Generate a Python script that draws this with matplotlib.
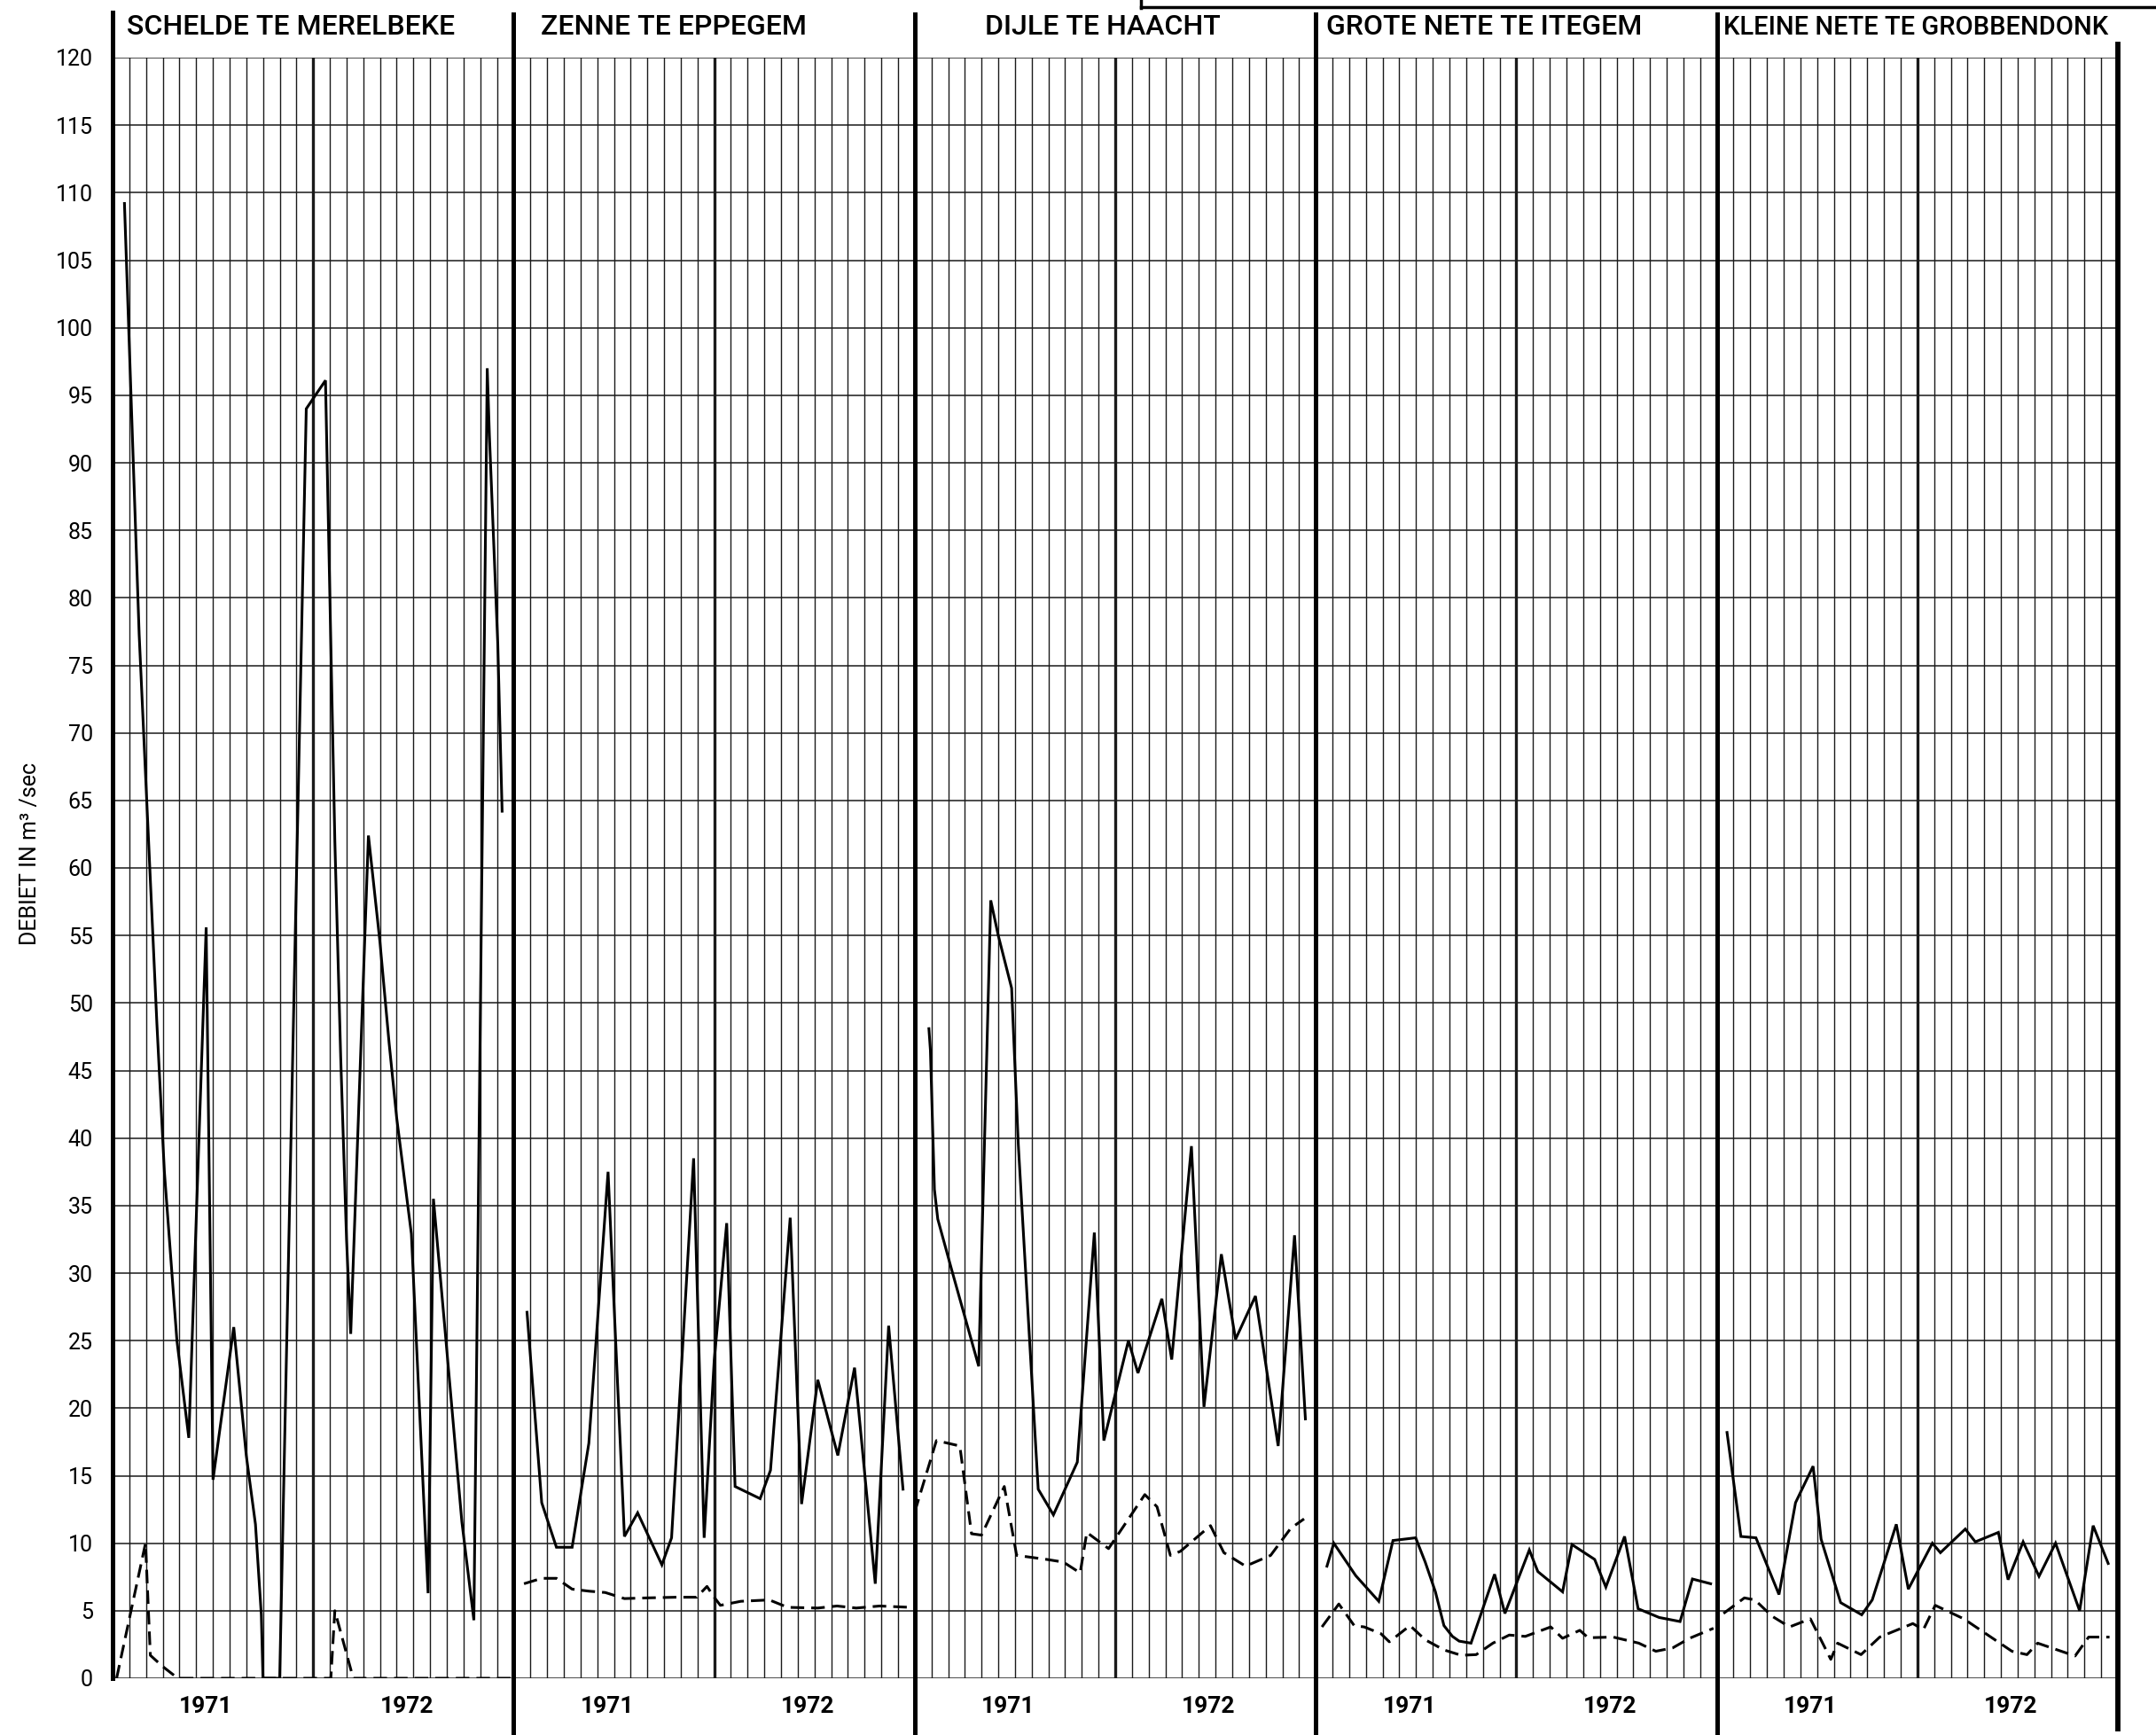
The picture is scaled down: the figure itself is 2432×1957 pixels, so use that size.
import numpy as np
import matplotlib
matplotlib.use('Agg')
import matplotlib.pyplot as plt
import matplotlib.transforms as mtransforms
from matplotlib import font_manager
from matplotlib.lines import Line2D

# debiet in m3/sec, x = maand binnen het paneel (0 = begin 1971, 24 = einde 1972)
stations = ['SCHELDE TE MERELBEKE', 'ZENNE TE EPPEGEM', 'DIJLE TE HAACHT',
            'GROTE NETE TE ITEGEM', 'KLEINE NETE TE GROBBENDONK']
years = ['1971', '1972']

schelde_t = [0.71, 1.59, 2.65, 3.1, 3.85, 4.56, 5.6, 6.01, 7.25, 8.0, 8.55, 8.9, 9.0, 10.0,
             11.59, 12.74, 13.3, 13.65, 14.0, 14.25, 15.31, 16.0, 16.55, 17.0, 17.88, 18.88,
             19.2, 20.2, 20.9, 21.62, 22.42, 22.55, 23.05, 23.31]
schelde_q = [109.2, 77.3, 48.5, 37.5, 25.0, 17.8, 55.6, 14.7, 26.0, 16.5, 11.4, 4.7, 0.0, 0.0,
             94.0, 96.1, 62.0, 46.0, 32.5, 25.5, 62.4, 54.5, 47.0, 41.5, 32.9, 6.3,
             35.5, 21.5, 11.6, 4.3, 97.0, 92.0, 76.6, 64.2]
schelde_dt = [0.24, 1.97, 2.26, 2.97, 3.9, 13.06, 13.3, 14.4, 24.0]
schelde_dq = [0.0, 10.0, 1.7, 0.9, 0.0, 0.0, 5.0, 0.0, 0.0]

zenne_t = [0.8, 1.68, 2.56, 3.5, 4.5, 5.65, 6.63, 7.42, 8.87, 9.45, 10.77, 11.4, 12.0, 12.75,
           13.25, 14.75, 15.37, 16.55, 17.23, 18.2, 19.4, 20.4, 21.64, 22.44, 23.3]
zenne_q = [27.1, 13.0, 9.7, 9.7, 17.4, 37.5, 10.5, 12.25, 8.4, 10.4, 38.5, 10.4, 23.5, 33.7,
           14.2, 13.3, 15.4, 34.1, 12.9, 22.1, 16.5, 23.0, 7.0, 26.1, 14.0]
zenne_dt = [0.62, 1.68, 2.56, 3.5, 4.5, 5.48, 6.63, 7.95, 9.7, 10.95, 11.57, 12.0, 12.37, 13.6,
            15.3, 16.4, 18.2, 19.35, 20.5, 21.9, 23.76]
zenne_dq = [7.0, 7.4, 7.4, 6.6, 6.45, 6.35, 5.9, 5.95, 6.0, 6.0, 6.8, 6.0, 5.4, 5.7,
            5.8, 5.25, 5.2, 5.35, 5.2, 5.35, 5.25]

dijle_t = [0.85, 0.94, 1.18, 1.38, 2.2, 3.83, 4.55, 5.0, 5.8, 6.2, 7.39, 8.3, 9.73, 10.75,
           11.32, 12.79, 13.36, 14.79, 15.38, 16.56, 17.31, 18.35, 19.2, 20.39, 21.75, 22.73, 23.38]
dijle_q = [48.1, 46.5, 36.2, 34.0, 30.3, 23.1, 57.6, 55.0, 51.1, 39.5, 14.0, 12.1, 16.0, 33.0,
           17.6, 25.0, 22.6, 28.1, 23.6, 39.4, 20.1, 31.4, 25.1, 28.3, 17.2, 32.8, 19.2]
dijle_dt = [0.0, 1.3, 2.7, 3.4, 4.0, 5.36, 6.1, 7.9, 8.9, 9.9, 10.3, 11.6, 13.77, 14.5, 15.3,
            15.9, 17.7, 18.5, 19.8, 21.3, 22.5, 23.3]
dijle_dq = [12.3, 17.6, 17.2, 10.7, 10.6, 14.2, 9.1, 8.8, 8.6, 7.8, 10.8, 9.6, 13.6, 12.7, 9.1,
            9.4, 11.3, 9.3, 8.3, 9.1, 11.1, 11.8]

grote_t = [0.67, 1.08, 2.39, 3.77, 4.62, 5.98, 6.55, 7.16, 7.67, 8.18, 8.58, 9.29, 10.7, 11.32,
           12.78, 13.29, 14.77, 15.33, 16.69, 17.36, 18.48, 19.29, 20.55, 21.8, 22.54, 23.63]
grote_q = [8.3, 10.0, 7.6, 5.7, 10.2, 10.4, 8.6, 6.4, 3.9, 3.1, 2.75, 2.6, 7.7, 4.8,
           9.5, 7.9, 6.4, 9.9, 8.8, 6.75, 10.5, 5.15, 4.5, 4.2, 7.35, 7.0]
grote_dt = [0.37, 1.38, 2.3, 2.9, 3.9, 4.4, 5.64, 6.55, 7.67, 8.7, 9.6, 10.6, 11.58, 12.54,
            14.06, 14.77, 15.8, 16.3, 17.8, 19.33, 20.35, 21.36, 22.37, 23.8]
grote_dq = [3.8, 5.5, 3.9, 3.8, 3.3, 2.7, 3.9, 2.85, 2.1, 1.7, 1.75, 2.6, 3.2, 3.1,
            3.8, 2.96, 3.55, 3.0, 3.05, 2.6, 2.0, 2.25, 2.96, 3.7]

kleine_t = [0.61, 1.44, 2.34, 3.72, 4.71, 5.76, 6.24, 7.41, 8.67, 9.3, 10.74, 11.46, 12.9,
            13.38, 14.87, 15.47, 16.85, 17.43, 18.33, 19.28, 20.27, 21.71, 22.52, 23.42]
kleine_q = [18.2, 10.5, 10.4, 6.2, 13.0, 15.7, 10.3, 5.6, 4.7, 5.8, 11.4, 6.6, 10.0,
            9.3, 11.05, 10.1, 10.8, 7.3, 10.1, 7.55, 10.0, 5.0, 11.3, 8.5]
kleine_dt = [0.4, 1.65, 2.28, 3.3, 4.35, 5.6, 6.82, 7.23, 8.63, 9.75, 11.73, 12.36, 13.07,
             14.78, 17.66, 18.56, 19.2, 21.44, 22.25, 23.5]
kleine_dq = [4.8, 5.95, 5.8, 4.6, 3.8, 4.4, 1.4, 2.6, 1.75, 3.05, 4.05, 3.6, 5.4,
             4.4, 2.0, 1.75, 2.6, 1.65, 3.05, 3.05]

solid = [(schelde_t, schelde_q), (zenne_t, zenne_q), (dijle_t, dijle_q),
         (grote_t, grote_q), (kleine_t, kleine_q)]
dashed = [(schelde_dt, schelde_dq), (zenne_dt, zenne_dq), (dijle_dt, dijle_dq),
          (grote_dt, grote_dq), (kleine_dt, kleine_dq)]
title_x = [0.85, 25.6, 52.2, 72.6, 96.4]
title_size = [23, 23, 23, 23, 21]

# smalle letter als die er is
names = set(f.name for f in font_manager.fontManager.ttflist)
narrow = 'Liberation Sans Narrow' if 'Liberation Sans Narrow' in names else 'Roboto'

W, H = 2432, 1957
fig = plt.figure(figsize=(W / 100, H / 100), dpi=100)
fig.patch.set_facecolor('white')
ax = fig.add_axes([127 / W, 1 - 1893 / H, (2389 - 127) / W, (1893 - 65) / H])
ax.set_xlim(0, 120)
ax.set_ylim(0, 120)
for s in ax.spines.values():
    s.set_visible(False)

# raster
for v in range(0, 121, 5):
    ax.axhline(v, color='#1a1a1a', lw=1.1, zorder=1)
for m in range(1, 120):
    if m % 24 == 0:
        continue
    ax.axvline(m, color='#1a1a1a', lw=2.4 if m % 12 == 0 else 1.0, zorder=1)

tr = mtransforms.blended_transform_factory(ax.transData, ax.transAxes)
ax.plot([0, 0], [0, 1.028], transform=tr, color='k', lw=3.6, clip_on=False, zorder=3)
for k in range(1, 5):
    ax.plot([24 * k, 24 * k], [-0.035, 1.027], transform=tr, color='k', lw=3.6,
            clip_on=False, zorder=3)
ax.plot([120, 120], [-0.031, 1.008], transform=tr, color='k', lw=4.2, clip_on=False, zorder=3)

# reeksen
for k in range(5):
    t, q = solid[k]
    ax.plot(np.array(t) + 24 * k, q, color='k', lw=2.2, zorder=4, solid_joinstyle='miter')
    t, q = dashed[k]
    ax.plot(np.array(t) + 24 * k, q, color='k', lw=2.2, dashes=(5, 2.6), zorder=4)
    ax.text(title_x[k], 1.0186, stations[k], transform=tr, ha='left', va='center',
            fontsize=title_size[k], family='Roboto', fontweight='medium')
    for j, yr in enumerate(years):
        ax.text(24 * k + 5.6 + 12 * j, -0.0175, yr, transform=tr, ha='center', va='center',
                fontsize=19, family=narrow, fontweight='bold')

ax.set_xticks([])
ax.set_yticks(np.arange(0, 121, 5))
ax.tick_params(axis='y', length=0, pad=16, labelsize=18)
for lab in ax.get_yticklabels():
    lab.set_family(narrow)

ax.text(-0.041, 0.509, 'DEBIET IN m³ /sec', transform=ax.transAxes, rotation=90,
        ha='center', va='center', fontsize=18, family='Roboto')

# rand van een kader bovenaan rechts
fig.add_artist(Line2D([1287 / W, 1.0], [1 - 8 / H, 1 - 8 / H], transform=fig.transFigure,
                      color='k', lw=2.5))
fig.add_artist(Line2D([1287 / W, 1287 / W], [1.0, 1 - 9 / H], transform=fig.transFigure,
                      color='k', lw=2.5))

fig.savefig('out.png', dpi=100, facecolor='white')
